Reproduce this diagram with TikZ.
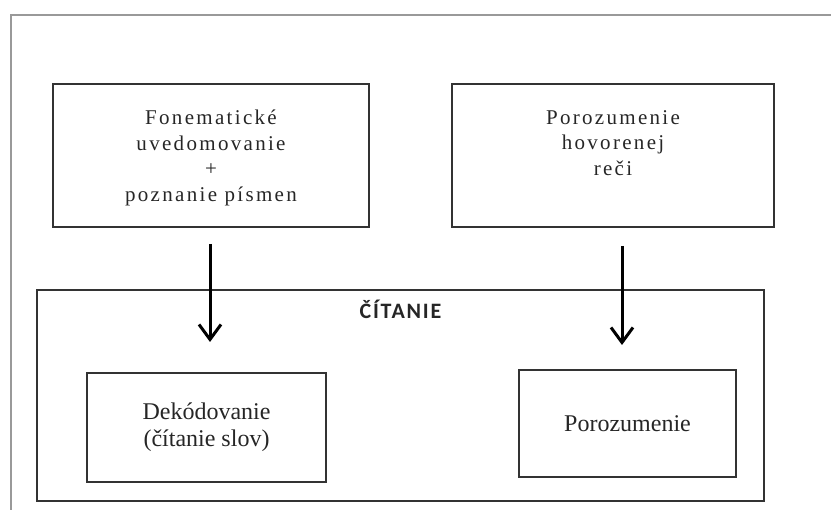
\documentclass[tikz,border=0pt]{standalone}
\usepackage{fontspec}
\setmainfont{Liberation Serif}
\newfontfamily\spacedserif[LetterSpace=11]{Liberation Serif}
\newfontfamily\headsans[LetterSpace=8]{Carlito}
\usetikzlibrary{arrows.meta,positioning}

\begin{document}
\begin{tikzpicture}[x=1pt,y=-1pt,
    box/.style={draw=black!80, line width=1.6pt, rectangle, inner sep=0pt},
    toptext/.style={align=center, inner sep=0pt, text=black!85,
      font=\spacedserif\fontsize{21}{25.5}\selectfont},
    lowtext/.style={align=center, text=black!85,
      font=\fontsize{24}{27}\selectfont},
    arr/.style={line width=3pt, -{Straight Barb[length=15pt,width=22pt]}}]
  \useasboundingbox (0,0) rectangle (831,510);

  % page frame
  \draw[black!40, line width=1.2pt] (11,510) -- (11,15) -- (831,15);

  % top boxes
  \node[box, minimum width=316pt, minimum height=143pt] (fonem) at (211,155.5) {};
  \node[toptext, below=27pt of fonem.north] (fonemtxt)
    {Fonematické\\uvedomovanie\\+\\poznanie písmen};
  \node[box, minimum width=322pt, minimum height=143pt] (porhov) at (613,155.5) {};
  \node[toptext, below=27pt of porhov.north] (porhovtxt)
    {Porozumenie\\hovorenej\\reči};

  % reading frame
  \node[box, minimum width=727pt, minimum height=211pt] (citanie) at (400.5,395.5) {};
  \node[below=11pt of citanie.north, inner sep=0pt, text=black!85,
        font=\headsans\bfseries\fontsize{22}{26}\selectfont] (citanietxt) {ČÍTANIE};

  % bottom boxes
  \node[box, lowtext, minimum width=239pt, minimum height=109pt] (dekod) at (206.5,427.5)
    {Dekódovanie\\(čítanie slov)};
  \node[box, lowtext, minimum width=217pt, minimum height=107pt] (porozum) at (627.5,423.5)
    {Porozumenie};

  % arrows
  \coordinate (decin) at (210,342);
  \coordinate (porin) at (622,345);
  \draw[arr] ([yshift=-16pt]fonem.south -| decin) -- (decin);
  \draw[arr] ([yshift=-18pt]porhov.south -| porin) -- (porin);
\end{tikzpicture}
\end{document}
